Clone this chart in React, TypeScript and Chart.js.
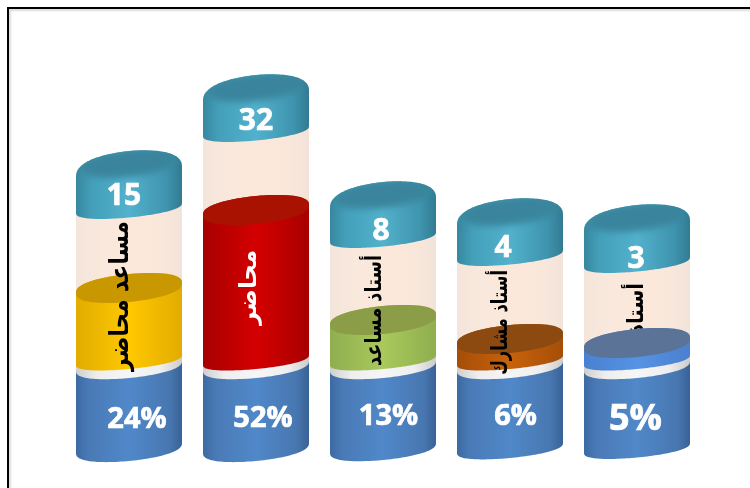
import React, { useEffect, useRef } from "react";
import { Chart, registerables } from "chart.js";

Chart.register(...registerables);

const categories = ["مساعد محاضر", "محاضر", "أستاذ مساعد", "أستاذ مشارك", "أستاذ"];
const counts = [15, 32, 8, 4, 3];
const percentLabels = ["24%", "52%", "13%", "6%", "5%"];

// Segment heights, stacked from the bottom of each cylinder up.
const baseHeights = [82, 82, 82, 82, 82];
const gapHeights = [6, 6, 6, 6, 6];
const fillHeights = [72, 150, 40, 21, 17];
const tubeHeights = [80, 79, 83, 84, 81];
const capHeights = [36, 35, 34, 35, 36];

const fillEdge = ["#e2ac00", "#a80000", "#8fae4f", "#a54e08", "#4a80cf"];
const fillMid = ["#ffc800", "#d40000", "#a9c95c", "#c8620a", "#5693e4"];
const fillFace = ["#c99800", "#a91200", "#8b9d47", "#8c4a10", "#5c7398"];
const labelColors = ["#000000", "#ffffff", "#000000", "#000000", "#000000"];

// Label layout: top and bottom of each rotated label, and its horizontal offset.
const labelTop = [221, 250, 255, 270, 283];
const labelBottom = [371, 325, 366, 375, 334];
const labelDx = [-8, -6, -8, -9, 0];
const labelFont = [26, 24, 22, 22, 22];
const countDx = [-5, 0, -2, -7, -1];
const countDy = [-13, -11, -8, -8, -4];
const percentDx = [8, 7, 5.5, 5.5, -1.5];
const percentDy = [-28, -29, -31, -31, -28];
const percentFont = [29, 29, 29, 29, 36];
const bottomRy = [13, 13, 12, 10, 9.5];

const SKEW = 5;
const ROUND = 0.8;
const [BASE, GAP, FILL, TUBE, CAP] = [0, 1, 2, 3, 4];

function curve(ctx: any, cx: number, cy: number, rx: number, ry: number, skew: number, from: number, to: number, move = false) {
  const steps = 64;
  for (let i = 0; i <= steps; i++) {
    const t = from + ((to - from) * i) / steps;
    const s = Math.sin(t);
    const x = cx + rx * Math.cos(t);
    const y = cy + ry * Math.sign(s) * Math.pow(Math.abs(s), ROUND) - skew * Math.cos(t);
    if (i === 0 && move) ctx.moveTo(x, y);
    else ctx.lineTo(x, y);
  }
}

function body(ctx: any, cx: number, rx: number, topCy: number, topRy: number, botCy: number, botRy: number) {
  ctx.beginPath();
  curve(ctx, cx, topCy, rx, topRy, SKEW, Math.PI, 2 * Math.PI, true);
  curve(ctx, cx, botCy, rx, botRy, SKEW, 0, Math.PI);
  ctx.closePath();
}

function hGrad(ctx: any, cx: number, rx: number, stops: [number, string][]) {
  const g = ctx.createLinearGradient(cx - rx, 0, cx + rx, 0);
  stops.forEach(([o, c]) => g.addColorStop(o, c));
  return g;
}

function drawLabel(ctx: any, i: number, cx: number) {
  const top = labelTop[i];
  const bottom = labelBottom[i];
  ctx.save();
  ctx.translate(cx + labelDx[i], (top + bottom) / 2);
  ctx.rotate(-Math.PI / 2);
  ctx.font = `bold ${labelFont[i]}px "DejaVu Sans"`;
  ctx.direction = "rtl";
  ctx.textAlign = "center";
  ctx.textBaseline = "middle";
  ctx.fillStyle = labelColors[i];
  const w = ctx.measureText(categories[i]).width;
  ctx.scale((bottom - top) / w, 1);
  ctx.fillText(categories[i], 0, 0);
  ctx.restore();
}

function heavyText(ctx: any, s: string, x: number, y: number) {
  ctx.lineWidth = 0.7;
  ctx.strokeStyle = "#ffffff";
  ctx.strokeText(s, x, y);
  ctx.fillText(s, x, y);
}

const cylinderPlugin = {
  id: "cylinders",
  beforeDatasetsDraw(chart: any) {
    const ctx = chart.ctx;
    const els = (d: number) => chart.getDatasetMeta(d).data;
    const n = categories.length;
    ctx.save();

    for (let i = 0; i < n; i++) {
      const e = els(BASE)[i];
      const cx = e.x;
      const rx = e.width / 2;
      ctx.fillStyle = hGrad(ctx, cx, rx, [[0, "#3c6aa2"], [0.12, "#4a7ab6"], [0.5, "#5088c9"], [0.88, "#4877b0"], [1, "#396296"]]);
      body(ctx, cx, rx, e.y, 12, e.base, bottomRy[i]);
      ctx.fill();
    }

    for (let i = 0; i < n; i++) {
      const e = els(GAP)[i];
      ctx.fillStyle = hGrad(ctx, e.x, e.width / 2, [[0, "#cfcfcf"], [0.2, "#eeeeee"], [0.5, "#f6f6f6"], [0.8, "#eeeeee"], [1, "#cccccc"]]);
      body(ctx, e.x, e.width / 2, e.y, 12, e.base, 12);
      ctx.fill();
    }

    for (let i = 0; i < n; i++) {
      const e = els(TUBE)[i];
      ctx.fillStyle = hGrad(ctx, e.x, e.width / 2, [[0, "#f4e5db"], [0.25, "#f9e8dc"], [0.5, "#fbe8da"], [0.8, "#f9e7db"], [1, "#f2e3d9"]]);
      body(ctx, e.x, e.width / 2, e.y, 12, e.base, 13);
      ctx.fill();
    }

    drawLabel(ctx, 4, els(TUBE)[4].x);

    for (let i = 0; i < n; i++) {
      const e = els(FILL)[i];
      const cx = e.x;
      const rx = e.width / 2;
      ctx.fillStyle = hGrad(ctx, cx, rx, [[0, fillEdge[i]], [0.5, fillMid[i]], [1, fillEdge[i]]]);
      body(ctx, cx, rx, e.y, 14, e.base, 9);
      ctx.fill();
      ctx.fillStyle = fillFace[i];
      ctx.beginPath();
      curve(ctx, cx, e.y, rx, 14, SKEW, 0, 2 * Math.PI, true);
      ctx.closePath();
      ctx.fill();
    }

    for (let i = 0; i < n; i++) {
      const e = els(CAP)[i];
      const cx = e.x;
      const rx = e.width / 2;
      ctx.save();
      body(ctx, cx, rx, e.y, 21, e.base, 9.5);
      ctx.clip();
      ctx.fillStyle = hGrad(ctx, cx, rx, [[0, "#37879f"], [0.15, "#44a0ba"], [0.5, "#52b1cc"], [0.85, "#3f94ae"], [1, "#327b93"]]);
      ctx.fillRect(cx - rx, e.y - 30, 2 * rx, e.base - e.y + 50);
      ctx.filter = "blur(3px)";
      ctx.fillStyle = "#3a859d";
      ctx.beginPath();
      curve(ctx, cx, e.y - 9, rx - 5, 14, SKEW, 0, 2 * Math.PI, true);
      ctx.closePath();
      ctx.fill();
      ctx.restore();
    }

    for (let i = 0; i < 4; i++) drawLabel(ctx, i, els(TUBE)[i].x);

    ctx.fillStyle = "#ffffff";
    ctx.textAlign = "center";
    ctx.textBaseline = "middle";
    for (let i = 0; i < n; i++) {
      const c = els(CAP)[i];
      ctx.font = 'bold 30px "Open Sans"';
      heavyText(ctx, String(counts[i]), c.x + countDx[i], (c.y + c.base) / 2 + 8 + countDy[i] + 11);
      const b = els(BASE)[i];
      ctx.font = `bold ${percentFont[i]}px "Open Sans"`;
      heavyText(ctx, percentLabels[i], b.x + percentDx[i], b.base + percentDy[i]);
    }

    ctx.restore();
    return false;
  },
};

export default function App() {
  const ref = useRef<HTMLCanvasElement>(null);
  useEffect(() => {
    const chart = new Chart(ref.current as HTMLCanvasElement, {
      type: "bar",
      data: {
        labels: categories,
        datasets: [
          { label: "base", data: baseHeights, backgroundColor: "#5088c9" },
          { label: "gap", data: gapHeights, backgroundColor: "#f0f0f0" },
          { label: "fill", data: fillHeights, backgroundColor: fillMid },
          { label: "tube", data: tubeHeights, backgroundColor: "#fbe8da" },
          { label: "count", data: capHeights, backgroundColor: "#4aa6c0" },
        ],
      },
      options: {
        responsive: false,
        animation: false,
        events: [],
        layout: { padding: { left: 65.5, right: 49.5, top: 8, bottom: 40 } },
        datasets: { bar: { barPercentage: 106 / 127, categoryPercentage: 1, clip: false } as any },
        plugins: { legend: { display: false }, tooltip: { enabled: false } },
        scales: {
          x: { display: false, stacked: true },
          y: { display: false, stacked: true, min: 0, max: 440 },
        },
      },
      plugins: [cylinderPlugin],
    });
    return () => chart.destroy();
  }, []);
  return (
    <div style={{ position: "fixed", left: 0, top: 0, width: 750, height: 488, background: "#fff", overflow: "hidden" }}>
      <canvas ref={ref} width={750} height={488} style={{ display: "block" }} />
      <div style={{ position: "absolute", left: 7, top: 7, width: 800, height: 500, border: "2px solid #000", boxShadow: "inset 2px 2px 2px #ddd", pointerEvents: "none" }} />
    </div>
  );
}
